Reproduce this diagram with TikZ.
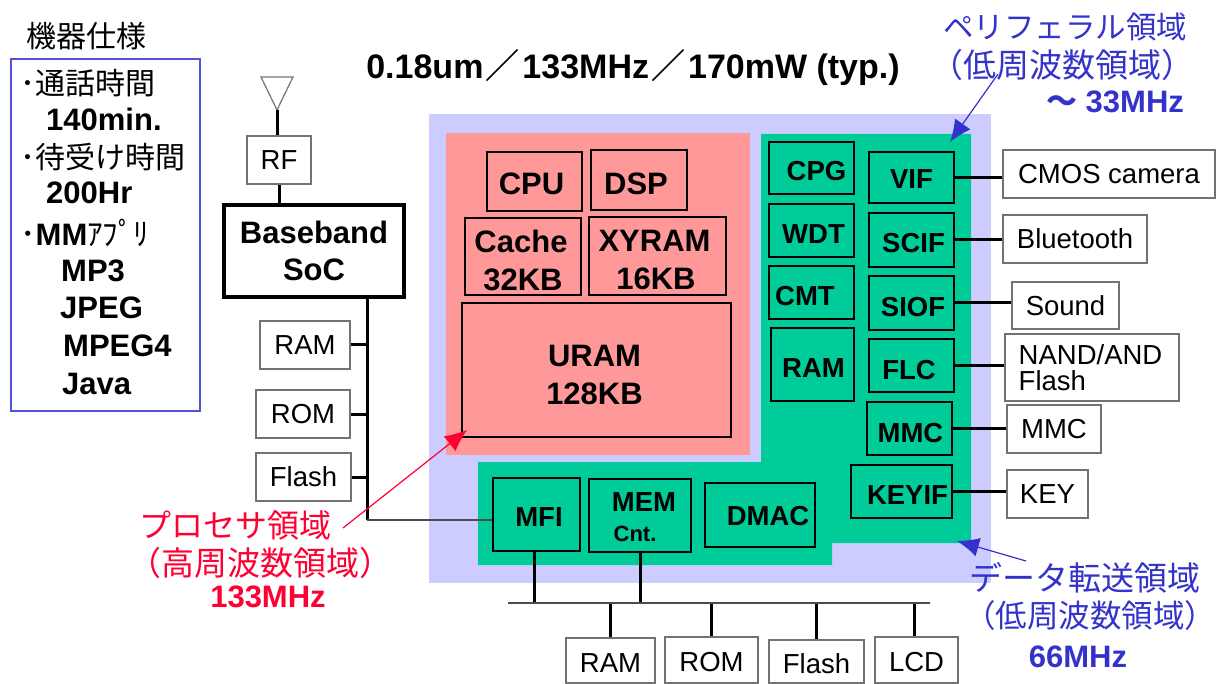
\documentclass[tikz,border=0pt]{standalone}
\usepackage{fontspec}
\setmainfont{Liberation Sans}
\newfontfamily\jpfont{Noto Sans CJK JP}
\usetikzlibrary{arrows.meta}
\definecolor{busarea}{RGB}{204,204,255}
\definecolor{cpuarea}{RGB}{255,153,153}
\definecolor{perarea}{RGB}{0,204,153}
\definecolor{bluetext}{RGB}{51,51,204}
\definecolor{redtext}{RGB}{255,0,51}
\newcommand{\dn}[1]{\rule{0pt}{#1pt}}
\tikzset{
  chipbox/.style={draw=black, line width=1.6pt, inner sep=0pt, align=center, font=\fontsize{27.5}{30}\selectfont\bfseries},
  cpubox/.style={chipbox, font=\fontsize{31}{38}\selectfont\bfseries},
  extbox/.style={draw=black!55, fill=white, line width=1.6pt, inner sep=0pt, align=center, font=\fontsize{27.5}{32}\selectfont},
  wire/.style={draw=black, line width=3pt},
  note/.style={inner sep=0pt, font=\fontsize{33}{36}\selectfont\jpfont},
  boldnote/.style={inner sep=0pt, font=\fontsize{31}{36}\selectfont\bfseries},
  spec/.style={inner sep=0pt, anchor=west, font=\fontsize{31}{36}\selectfont\bfseries},
  specjp/.style={spec, font=\fontsize{30}{36}\selectfont\jpfont},
  bluearrow/.style={draw=bluetext, line width=1.2pt, -{Latex[length=22pt,width=19pt]}},
  redarrow/.style={draw=redtext, line width=1.2pt, -{Latex[length=22pt,width=19pt]}}
}
\begin{document}
\begin{tikzpicture}[x=1pt,y=-1pt]
  \useasboundingbox (0,0) rectangle (1218,684);
  % areas
  \fill[busarea] (429,114) rectangle (991,583);
  \fill[perarea] (761,134) -- (971,134) -- (971,543) -- (832,543) -- (832,565) -- (478,565) -- (478,462) -- (761,462) -- cycle;
  \fill[cpuarea] (446,133) rectangle (750,455);

  % spec list
  \node[note, font=\fontsize{30}{36}\selectfont\jpfont] (spectitle) at (86,36) {機器仕様};
  \node[draw=bluetext!85, line width=1.2pt, minimum width=189pt, minimum height=352pt, inner sep=0pt] (specbox) at (105.5,235) {};
  \node[specjp] (talk) at (20,83) {･通話時間};
  \node[spec] (talkval) at (46,119) {140min.};
  \node[specjp] (wait) at (20,157) {･待受け時間};
  \node[spec] (waitval) at (46,193) {200Hr};
  \node[spec] (apps) at (20,233) {{\mdseries\jpfont ･}MM{\mdseries\jpfont ｱﾌﾟﾘ}};
  \node[spec] (mp3) at (61,271) {MP3};
  \node[spec] (jpeg) at (60,308) {JPEG};
  \node[spec] (mpeg) at (63,346) {MPEG4};
  \node[spec] (java) at (62,384) {Java};

  % baseband side
  \coordinate (ant) at (277,110);
  \coordinate (socbus) at (367,520);
  \draw[black!55, line width=1.2pt] (261,77) -- (293,77) -- (ant) -- cycle;
  \node[extbox, minimum width=64pt, minimum height=48pt] (rf) at (279,160) {RF};
  \node[draw=black, line width=4.5pt, inner sep=0pt, minimum width=180pt, minimum height=92pt, align=center, font=\fontsize{31}{37}\selectfont\bfseries] (soc) at (314,251) {Baseband\\SoC};
  \node[extbox, minimum width=90pt, minimum height=48pt] (socram) at (305,345) {RAM};
  \node[extbox, minimum width=94pt, minimum height=48pt] (socrom) at (303,414) {ROM};
  \node[extbox, minimum width=95pt, minimum height=48pt] (socflash) at (303.5,477) {Flash};

  % processor area
  \node[cpubox, minimum width=95pt, minimum height=59pt] (cpu) at (534.5,181.5) {\dn{26}CPU\hspace*{6pt}};
  \node[cpubox, minimum width=96pt, minimum height=60pt] (dsp) at (639,180) {\dn{30}DSP\hspace*{6pt}};
  \node[cpubox, minimum width=116pt, minimum height=77pt] (cache) at (523,256.5) {\dn{30}Cache\hspace*{4pt}\\32KB};
  \node[cpubox, minimum width=137pt, minimum height=78pt] (xyram) at (657.5,256) {\dn{29}XYRAM\hspace*{6pt}\\16KB\hspace*{3pt}};
  \node[cpubox, minimum width=269pt, minimum height=134pt] (uram) at (596.5,370) {\dn{32}URAM\hspace*{4pt}\\128KB\hspace*{4pt}};

  % peripheral area
  \node[chipbox, minimum width=85pt, minimum height=52pt] (cpg) at (811.5,168) {\dn{26}\hspace*{10pt}CPG};
  \node[chipbox, minimum width=85pt, minimum height=53pt] (wdt) at (811.5,230.5) {\dn{26}\hspace*{4pt}WDT};
  \node[chipbox, minimum width=85pt, minimum height=53pt] (cmt) at (811.5,292.5) {\dn{26}CMT\hspace*{13pt}};
  \node[chipbox, minimum width=83pt, minimum height=73pt] (ram) at (812.5,364.5) {\dn{26}\hspace*{2pt}RAM};
  \node[chipbox, minimum width=85pt, minimum height=51pt] (vif) at (911.5,177.5) {\dn{22}VIF};
  \node[chipbox, minimum width=85pt, minimum height=54pt] (scif) at (911.5,240) {\dn{26}\hspace*{4pt}SCIF};
  \node[chipbox, minimum width=85pt, minimum height=54pt] (siof) at (911.5,303) {\dn{28}\hspace*{3pt}SIOF};
  \node[chipbox, minimum width=85pt, minimum height=53pt] (flc) at (911.5,365.5) {\dn{28}FLC\hspace*{5pt}};
  \node[chipbox, minimum width=85pt, minimum height=53pt] (mmc) at (909.5,428.5) {\dn{28}\hspace*{2pt}MMC};
  \node[chipbox, minimum width=101pt, minimum height=53pt] (keyif) at (901.5,491.5) {\dn{26}\hspace*{12pt}KEYIF};
  \node[chipbox, minimum width=87pt, minimum height=73pt] (mfi) at (536.5,514.5) {\dn{24}\hspace*{5pt}MFI};
  \node[chipbox, minimum width=102pt, minimum height=73pt] (mem) at (640,515.5) {\dn{22}\hspace*{8pt}MEM\\{\fontsize{22}{30}\selectfont Cnt.\hspace*{10pt}}};
  \node[chipbox, minimum width=110pt, minimum height=64pt] (dmac) at (760,515) {\dn{22}\hspace*{16pt}DMAC};

  % external parts
  \node[extbox, minimum width=212pt, minimum height=48pt] (camera) at (1109,174) {CMOS camera};
  \node[extbox, minimum width=144pt, minimum height=48pt] (bluetooth) at (1075,239) {Bluetooth};
  \node[extbox, minimum width=107pt, minimum height=47pt] (sound) at (1065.5,305.5) {Sound};
  \node[extbox, minimum width=174pt, minimum height=67pt, align=left, font=\fontsize{27.5}{26}\selectfont] (nand) at (1092,367.5) {NAND/AND\hspace*{3pt}\\Flash};
  \node[extbox, minimum width=94pt, minimum height=48pt] (mmccard) at (1054,429) {MMC};
  \node[extbox, minimum width=81pt, minimum height=48pt] (key) at (1047.5,494) {KEY};
  \node[extbox, minimum width=89pt, minimum height=45pt] (memram) at (610.5,660.5) {\dn{24}RAM};
  \node[extbox, minimum width=93pt, minimum height=46pt] (memrom) at (711.5,660) {\dn{24}ROM};
  \node[extbox, minimum width=95pt, minimum height=43pt] (memflash) at (816.5,661.5) {\dn{25}Flash};
  \node[extbox, minimum width=83pt, minimum height=46pt] (lcd) at (916.5,660) {\dn{23}LCD};

  % connectors
  \coordinate (membus) at (508,603);
  \coordinate (membusend) at (930,603);
  \path[wire]
  (ant) edge (ant |- rf.north)
  (rf.south) edge (rf.south |- soc.north)
  (soc.south -| socbus) edge (socbus)
  (socram.east) edge (socram.east -| socbus)
  (socrom.east) edge (socrom.east -| socbus)
  (socflash.east) edge (socflash.east -| socbus)
  (vif.east) edge (vif.east -| camera.west)
  (scif.east) edge (scif.east -| bluetooth.west)
  (siof.east) edge (siof.east -| sound.west)
  (flc.east) edge (flc.east -| nand.west)
  (mmc.east) edge (mmc.east -| mmccard.west)
  (keyif.east) edge (keyif.east -| key.west)
  (mem.south) edge (mem.south |- membus)
  (memram.north) edge (memram.north |- membus)
  (memrom.north) edge (memrom.north |- membus)
  (memflash.north) edge (memflash.north |- membus)
  ([xshift=-2.5pt]lcd.north) edge ([xshift=-2.5pt]lcd.north |- membus)
  ([xshift=-2.5pt]mfi.south) edge ([xshift=-2.5pt]mfi.south |- membus)
  ;
  \draw[black!70, line width=1.6pt] (socbus) -- (socbus -| mfi.west);
  \draw[black!70, line width=2pt] (membus) -- (membusend);

  % titles and notes
  \node[boldnote, font=\fontsize{34}{36}\selectfont\bfseries] (speed) at (633,67) {0.18um\hspace{2.5pt}{\jpfont ／}\hspace{2.5pt}133MHz\hspace{2.5pt}{\jpfont ／}\hspace{2.5pt}170mW (typ.)};
  \node[note, font=\fontsize{30.5}{36}\selectfont\jpfont, text=bluetext] (perline) at (1065,27) {ペリフェラル領域};
  \node[note, text=bluetext] (perlow) at (1062,65) {（低周波数領域）};
  \node[boldnote, text=bluetext] (perfreq) at (1115,102) {{\jpfont ～} 33MHz};
  \node[note, font=\fontsize{32}{36}\selectfont\jpfont, text=redtext] (cpuline) at (235,525) {プロセサ領域};
  \node[note, text=redtext] (cpulow) at (260,563) {（高周波数領域）};
  \node[boldnote, text=redtext] (cpufreq) at (268,597) {133MHz};
  \node[note, text=bluetext] (busline) at (1085,578) {データ転送領域};
  \node[note, font=\fontsize{31.5}{36}\selectfont\jpfont, text=bluetext] (buslow) at (1090,616) {（低周波数領域）};
  \node[boldnote, text=bluetext] (busfreq) at (1078,657) {66MHz};

  % arrows
  \coordinate (pertail) at (998,74);
  \coordinate (pertip) at (950,142);
  \coordinate (cputail) at (343,528);
  \coordinate (cputip) at (467,430);
  \coordinate (bustail) at (1026,561);
  \coordinate (bustip) at (957,541);
  \draw[bluearrow] (pertail) -- (pertip);
  \draw[redarrow] (cputail) -- (cputip);
  \draw[bluearrow] (bustail) -- (bustip);
\end{tikzpicture}
\end{document}
